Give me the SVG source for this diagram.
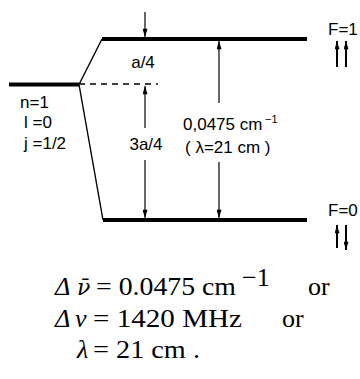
<svg xmlns="http://www.w3.org/2000/svg" width="360" height="379" viewBox="0 0 360 379">
<style>
.lvl{stroke:#000;stroke-width:4;fill:none}
.thin{stroke:#000;stroke-width:1.4;fill:none}
.dash{stroke:#000;stroke-width:1.3;stroke-dasharray:6,5;fill:none}
.arr{stroke:#000;stroke-width:1.2;fill:none}
.spin{stroke:#000;stroke-width:2;fill:none}
.lab{font-family:"Liberation Sans",Arial,sans-serif;font-size:17px;fill:#000}
.sup{font-family:"Liberation Sans",Arial,sans-serif;font-size:11px;fill:#000}
.eq{font-family:"Liberation Serif","Times New Roman",serif;font-size:26px;fill:#000}
.it{font-style:italic}
.nub{font-family:"DejaVu Serif",serif;font-style:italic;font-size:22px;fill:#000}
</style>
<defs>
<marker id="ah" viewBox="0 0 10 6" refX="10" refY="3" markerWidth="9" markerHeight="5" markerUnits="userSpaceOnUse" orient="auto">
<path d="M0,0 L10,3 L0,6 z" fill="#000"/>
</marker>
</defs>
<rect width="360" height="379" fill="#fff"/>
<g id="level-n1">
<line class="lvl" x1="9" y1="84.5" x2="79" y2="84.5"/>
<text class="lab" x="20" y="108">n=1</text>
<text class="lab" x="24" y="128">l =0</text>
<text class="lab" x="24" y="149">j =1/2</text>
</g>
<g id="level-F1">
<line class="lvl" x1="102" y1="39" x2="307" y2="39"/>
<text class="lab" x="328" y="35">F=1</text>
<line class="spin" x1="337" y1="67" x2="337" y2="41" marker-end="url(#ah)"/>
<line class="spin" x1="346" y1="67" x2="346" y2="41" marker-end="url(#ah)"/>
</g>
<g id="level-F0">
<line class="lvl" x1="103" y1="220" x2="307" y2="220"/>
<text class="lab" x="328" y="216">F=0</text>
<line class="spin" x1="337" y1="248" x2="337" y2="225" marker-end="url(#ah)"/>
<line class="spin" x1="346" y1="225" x2="346" y2="250" marker-end="url(#ah)"/>
</g>
<g id="connectors">
<line class="thin" x1="79" y1="84.5" x2="102" y2="39"/>
<line class="thin" x1="79" y1="84.5" x2="103" y2="220"/>
<line class="dash" x1="79" y1="84" x2="158" y2="84"/>
<line class="arr" x1="145" y1="12" x2="145" y2="37" marker-end="url(#ah)"/>
<line class="arr" x1="145" y1="128" x2="145" y2="86" marker-end="url(#ah)"/>
<line class="arr" x1="145" y1="160" x2="145" y2="218" marker-end="url(#ah)"/>
<line class="arr" x1="219" y1="103" x2="219" y2="41" marker-end="url(#ah)"/>
<line class="arr" x1="219" y1="162" x2="219" y2="218" marker-end="url(#ah)"/>
</g>
<g id="labels">
<text class="lab" x="143" y="68" text-anchor="middle">a/4</text>
<text class="lab" x="146" y="150" text-anchor="middle">3a/4</text>
<text class="lab" x="183" y="130">0,0475 cm</text>
<text class="sup" x="265" y="123">−1</text>
<text class="lab" x="185" y="153">( λ=21 cm )</text>
</g>
<g id="equations">
<text class="eq it" x="55" y="295">Δ</text>
<text class="nub" x="77" y="295">ν̄</text>
<text class="eq" x="96" y="295" textLength="140" lengthAdjust="spacingAndGlyphs">= 0.0475 cm</text>
<text class="eq" x="242" y="286" font-size="15">−1</text>
<text class="eq" x="308" y="295">or</text>
<text class="eq it" x="55" y="327">Δ</text>
<text class="eq it" x="75" y="327">ν</text>
<text class="eq" x="93" y="327" textLength="149" lengthAdjust="spacingAndGlyphs">= 1420 MHz</text>
<text class="eq" x="282" y="327">or</text>
<text class="eq it" x="77" y="358">λ</text>
<text class="eq" x="93" y="358" textLength="107" lengthAdjust="spacingAndGlyphs">= 21 cm .</text>
</g>
</svg>
